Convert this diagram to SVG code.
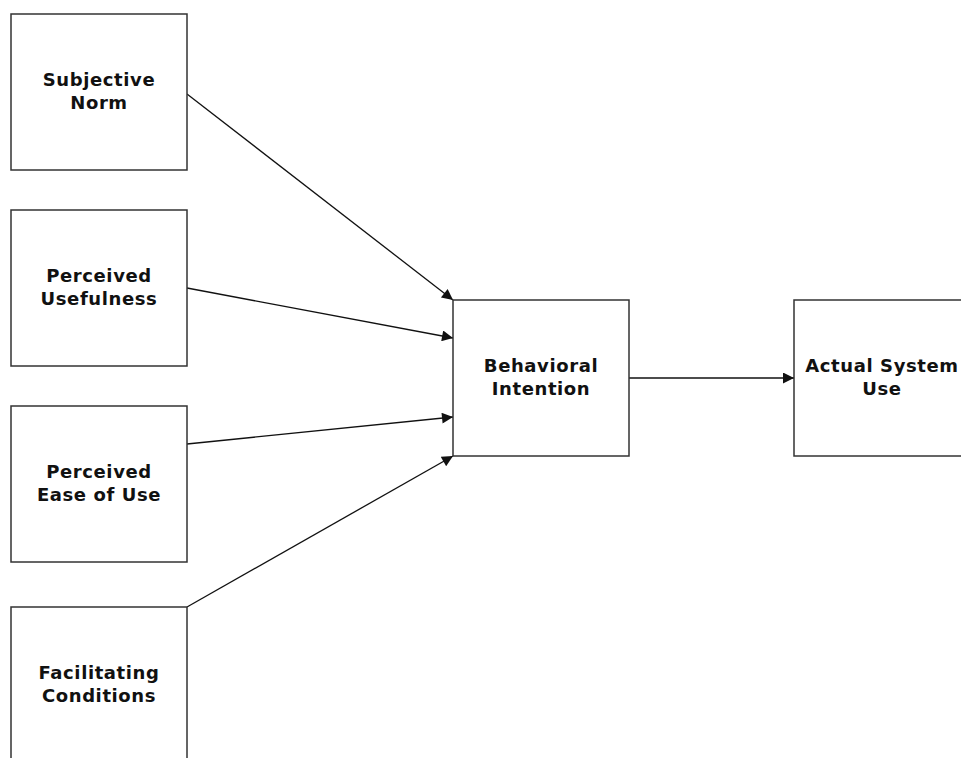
<svg xmlns="http://www.w3.org/2000/svg" width="961" height="758" viewBox="0 0 961 758">
<defs>
<style>
.box{fill:#fff;stroke:#333;stroke-width:1.5}
.lbl{font-family:"DejaVu Sans","Open Sans",sans-serif;font-weight:bold;font-size:18px;letter-spacing:0.6px;fill:#111;text-anchor:middle}
.edge{stroke:#111;stroke-width:1.3;fill:none;marker-end:url(#arr)}
</style>
<marker id="arr" viewBox="0 0 10 10" refX="10" refY="5" markerWidth="14" markerHeight="11" markerUnits="userSpaceOnUse" orient="auto">
<path d="M0,0 L10,5 L0,10 z" fill="#111"/>
</marker>
</defs>
<rect width="961" height="758" fill="#fff"/>
<g id="connectors">
<line class="edge" x1="187" y1="94" x2="453" y2="300"/>
<line class="edge" x1="187" y1="288" x2="453" y2="338"/>
<line class="edge" x1="187" y1="444" x2="453" y2="417"/>
<line class="edge" x1="187" y1="607" x2="453" y2="456"/>
<line class="edge" x1="629" y1="378" x2="794" y2="378"/>
</g>
<g id="subjective-norm"><rect class="box" x="11" y="14" width="176" height="156"/><text class="lbl" x="99" y="86">Subjective</text><text class="lbl" x="99" y="109">Norm</text></g>
<g id="perceived-usefulness"><rect class="box" x="11" y="210" width="176" height="156"/><text class="lbl" x="99" y="282">Perceived</text><text class="lbl" x="99" y="305">Usefulness</text></g>
<g id="perceived-ease"><rect class="box" x="11" y="406" width="176" height="156"/><text class="lbl" x="99" y="478">Perceived</text><text class="lbl" x="99" y="501">Ease of Use</text></g>
<g id="facilitating-conditions"><rect class="box" x="11" y="607" width="176" height="156"/><text class="lbl" x="99" y="679">Facilitating</text><text class="lbl" x="99" y="702">Conditions</text></g>
<g id="behavioral-intention"><rect class="box" x="453" y="300" width="176" height="156"/><text class="lbl" x="541" y="372">Behavioral</text><text class="lbl" x="541" y="395">Intention</text></g>
<g id="actual-system-use"><rect class="box" x="794" y="300" width="176" height="156"/><text class="lbl" x="882" y="372">Actual System</text><text class="lbl" x="882" y="395">Use</text></g>
</svg>
